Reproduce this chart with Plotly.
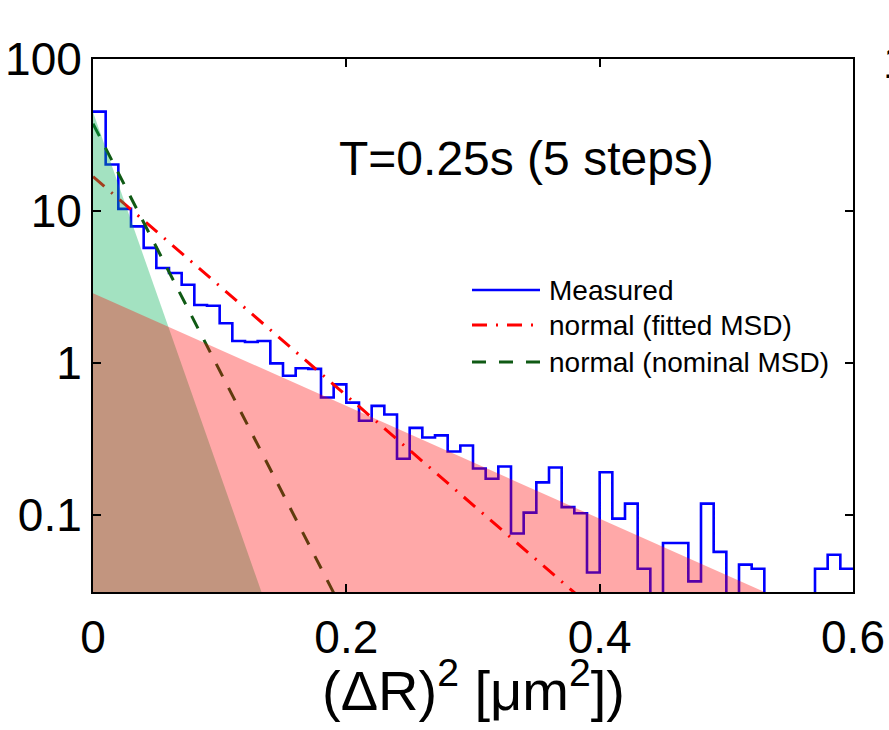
import numpy as np
import plotly.graph_objects as go

# ---------------- data ----------------
bin_width = 0.01
# measured histogram (probability density), 60 bins from 0 to 0.6; 0 = empty bin
measured = [45, 20.2, 10.3, 7.9, 5.7, 4.2, 3.9, 3.26, 2.4, 2.37,
            1.82, 1.39, 1.37, 1.39, 0.99, 0.82, 0.92, 0.91, 0.59, 0.72,
            0.546, 0.415, 0.52, 0.456, 0.233, 0.372, 0.322, 0.332, 0.26, 0.285,
            0.201, 0.172, 0.207, 0.075, 0.103, 0.163, 0.204, 0.112, 0.102, 0.0415,
            0.19, 0.094, 0.118, 0.044, 0, 0.065, 0.065, 0.0363, 0.118, 0.0568,
            0, 0.0468, 0.044, 0, 0, 0, 0, 0.044, 0.0544, 0.044]

# model lines (straight on log-y): endpoints
fitted_x = [0.0, 0.4]
fitted_y = [16.8, 0.022]
nominal_x = [0.0, 0.2]
nominal_y = [37.5, 0.021]

# shaded model areas (apex at x=0, reach the axis floor at x_end)
green_area_top = 44.7
green_area_xend = 0.133
red_area_top = 2.87
red_area_xend = 0.53

x_ticks = [0, 0.2, 0.4, 0.6]
x_ticklabels = ["0", "0.2", "0.4", "0.6"]
y_ticks = [0.1, 1, 10, 100]
y_ticklabels = ["0.1", "1", "10", "100"]

legend_names = ["Measured", "normal (fitted MSD)", "normal (nominal MSD)"]
annotation_text = "T=0.25s (5 steps)"
x_title = "(ΔR)<sup>2</sup> [μm<sup>2</sup>])"

# ---------------- figure ----------------
FONT = "Liberation Sans, Arial, Helvetica, sans-serif"
y_lo_log, y_hi_log = -1.51, 2.0
ymin = 10 ** y_lo_log

W, H = 889, 730
L, R, T, B = 93, 36, 59, 138
pw, ph = W - L - R, H - T - B

edges = list(np.round(np.arange(len(measured) + 1) * bin_width, 4))
vals = [v if v > 0 else ymin * 0.4 for v in measured]
stairs_y = vals + [vals[-1]]

blue = "#0000ff"
red = "#ff0000"
dgreen = "#0f5a14"
red_dash = "15px,9px,2px,9px"
green_dash = "14px,13px"

fig = go.Figure()

fig.add_trace(go.Scatter(x=edges, y=stairs_y, mode="lines", line_shape="hv",
                         line=dict(color=blue, width=2.6), name=legend_names[0],
                         showlegend=False, hoverinfo="skip"))
fig.add_trace(go.Scatter(x=fitted_x, y=fitted_y, mode="lines",
                         line=dict(color=red, width=3, dash=red_dash),
                         name=legend_names[1], showlegend=False, hoverinfo="skip"))
fig.add_trace(go.Scatter(x=nominal_x, y=nominal_y, mode="lines",
                         line=dict(color=dgreen, width=3, dash=green_dash),
                         name=legend_names[2], showlegend=False, hoverinfo="skip"))

# shaded areas drawn over the lines (semi-transparent)
fig.add_trace(go.Scatter(x=[0, 0, green_area_xend, 0], y=[ymin, green_area_top, ymin, ymin],
                         mode="lines", fill="toself", fillcolor="rgba(0,175,84,0.36)",
                         line=dict(width=0), showlegend=False, hoverinfo="skip"))
fig.add_trace(go.Scatter(x=[0, 0, red_area_xend, 0], y=[ymin, red_area_top, ymin, ymin],
                         mode="lines", fill="toself", fillcolor="rgba(255,0,0,0.34)",
                         line=dict(width=0), showlegend=False, hoverinfo="skip"))

def px2paper(px, py):
    return (px - L) / pw, (H - B - py) / ph

# manual legend
leg_rows = [(290, blue, None, 2.6), (325, red, red_dash, 3), (362, dgreen, green_dash, 3)]
for (py, col, dash, w), name in zip(leg_rows, legend_names):
    x0, y0 = px2paper(472, py)
    x1, _ = px2paper(540, py)
    ln = dict(color=col, width=w)
    if dash:
        ln["dash"] = dash
    fig.add_shape(type="line", xref="paper", yref="paper", x0=x0, x1=x1, y0=y0, y1=y0, line=ln)
    tx, _ = px2paper(547, py)
    fig.add_annotation(xref="paper", yref="paper", x=tx, y=y0, text=name, showarrow=False,
                       xanchor="left", yanchor="middle", font=dict(size=28, color="black", family=FONT))

# in-plot label
fig.add_annotation(x=0.342, y=np.log10(22), xref="x", yref="y", text=annotation_text,
                   showarrow=False, xanchor="center", yanchor="middle",
                   font=dict(size=48, color="black", family=FONT))

# x-axis title
tx, ty = px2paper(473, 686)
fig.add_annotation(xref="paper", yref="paper", x=tx, y=ty, text=x_title, showarrow=False,
                   xanchor="center", yanchor="middle", font=dict(size=56, color="black", family=FONT))

# neighbouring panel's tick label, cut by the right edge
nx, ny = px2paper(881, 62)
fig.add_annotation(xref="paper", yref="paper", x=nx, y=ny, text="100", showarrow=False,
                   xanchor="left", yanchor="middle", font=dict(size=46, color="black", family=FONT))

fig.update_xaxes(range=[0, 0.6], tickvals=x_ticks, ticktext=x_ticklabels,
                 ticks="inside", ticklen=8, tickwidth=1.5, tickcolor="black",
                 showline=True, linecolor="black", linewidth=2, mirror="ticks",
                 showgrid=False, zeroline=False, automargin=False,
                 ticklabelstandoff=4,
                 tickfont=dict(size=46, color="black", family=FONT))
fig.update_yaxes(type="log", range=[y_lo_log, y_hi_log], tickvals=y_ticks, ticktext=y_ticklabels,
                 ticks="inside", ticklen=8, tickwidth=1.5, tickcolor="black",
                 showline=True, linecolor="black", linewidth=2, mirror="ticks",
                 showgrid=False, zeroline=False, automargin=False,
                 ticklabelstandoff=0,
                 tickfont=dict(size=46, color="black", family=FONT))

fig.update_layout(width=W, height=H, margin=dict(l=L, r=R, t=T, b=B),
                  paper_bgcolor="white", plot_bgcolor="white", showlegend=False,
                  font=dict(family=FONT, color="black"))

fig.write_html("out.html")
